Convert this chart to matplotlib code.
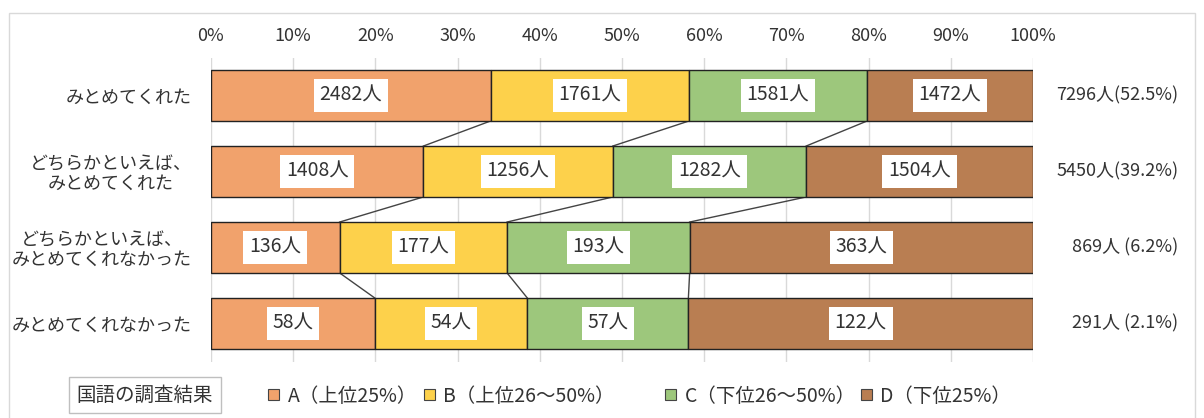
"""
国語の調査結果 × 自己肯定（みとめてくれた）の100%積み上げ横棒グラフ
"""

import numpy as np
import matplotlib
matplotlib.use('Agg')
import matplotlib.pyplot as plt
from matplotlib.patches import Patch, Rectangle

# 日本語フォント設定
plt.rcParams['font.family'] = ['Noto Sans CJK JP', 'DejaVu Sans']
plt.rcParams['axes.unicode_minus'] = False

# データ
categories = ['みとめてくれた', 'どちらかといえば、\nみとめてくれた',
              'どちらかといえば、\nみとめてくれなかった', 'みとめてくれなかった']
series_names = ['A（上位25%）', 'B（上位26～50%）', 'C（下位26～50%）', 'D（下位25%）']
count_a = [2482, 1408, 136, 58]
count_b = [1761, 1256, 177, 54]
count_c = [1581, 1282, 193, 57]
count_d = [1472, 1504, 363, 122]
colors = ['#F1A26C', '#FDD14B', '#9DC77C', '#B97E52']

counts = np.array([count_a, count_b, count_c, count_d], dtype=float)  # (series, category)
totals = counts.sum(axis=0)
ratios = counts / totals * 100
cum = np.cumsum(ratios, axis=0)
starts = cum - ratios

fig = plt.figure(figsize=(12.04, 4.18), dpi=100)
ax = fig.add_axes([211 / 1204, 1 - 361.5 / 418, 822 / 1204, 304 / 418])

y = np.arange(len(categories))
bar_h = 0.67

for s in range(len(series_names)):
    ax.barh(y, ratios[s], left=starts[s], height=bar_h, color=colors[s],
            edgecolor='#222222', linewidth=1.0, zorder=3)
    for i in range(len(categories)):
        ax.text(starts[s, i] + ratios[s, i] / 2, y[i], f'{int(counts[s, i])}人',
                ha='center', va='center', fontsize=14, color='#333333', zorder=5,
                bbox=dict(boxstyle='square,pad=0.3', fc='white', ec='none'))

# 系列線（区切りをつなぐ）
for k in range(len(series_names) - 1):
    for i in range(len(categories) - 1):
        ax.plot([cum[k, i], cum[k, i + 1]], [y[i] + bar_h / 2, y[i + 1] - bar_h / 2],
                color='#444444', linewidth=1.0, zorder=2)

ax.set_xlim(0, 100)
ax.set_ylim(len(categories) - 0.5, -0.5)
ax.set_xticks(np.arange(0, 101, 10))
ax.set_xticklabels([f'{v}%' for v in range(0, 101, 10)])
ax.xaxis.tick_top()
ax.tick_params(axis='x', length=0, pad=9, labelsize=13, labelcolor='#333333')
ax.set_yticks(y)
ax.set_yticklabels(categories, fontsize=13, color='#333333', linespacing=1.1)
for lbl in ax.get_yticklabels():
    lbl.set_multialignment('center')
ax.tick_params(axis='y', length=0, pad=14)
ax.grid(axis='x', color='#D9D9D9', linewidth=1.0, zorder=0)
for sp in ax.spines.values():
    sp.set_visible(False)

# 右側の合計
grand = totals.sum()
for i in range(len(categories)):
    pct = totals[i] / grand * 100
    sep = '' if pct >= 10 else ' '
    ax.text(1.177, y[i], f'{int(totals[i])}人{sep}({pct:.1f}%)',
            transform=ax.get_yaxis_transform(), ha='right', va='center',
            fontsize=13, color='#333333')

# 凡例（項目ごとに配置）
legend_x = [268, 424, 665, 861]
for name, c, lx in zip(series_names, colors, legend_x):
    h = Patch(facecolor=c, edgecolor='#444444', linewidth=0.8)
    fig.legend([h], [name], loc='center left', bbox_to_anchor=(lx / 1204, 1 - 396 / 418),
               frameon=False, fontsize=14, handlelength=0.55, handleheight=0.55,
               handletextpad=0.45, borderpad=0, borderaxespad=0, labelcolor='#333333')
fig.text(145 / 1204, 1 - 395 / 418, '国語の調査結果', ha='center', va='center',
         fontsize=14, color='#333333',
         bbox=dict(boxstyle='square,pad=0.4', fc='white', ec='#BFBFBF', lw=1.0))

# 外枠
fig.patches.append(Rectangle((9 / 1204, -0.02), 1186 / 1204, 1 - 13 / 418 + 0.02,
                             transform=fig.transFigure, fill=False, ec='#D9D9D9', lw=1.0))

fig.savefig('out.png', dpi=100)
